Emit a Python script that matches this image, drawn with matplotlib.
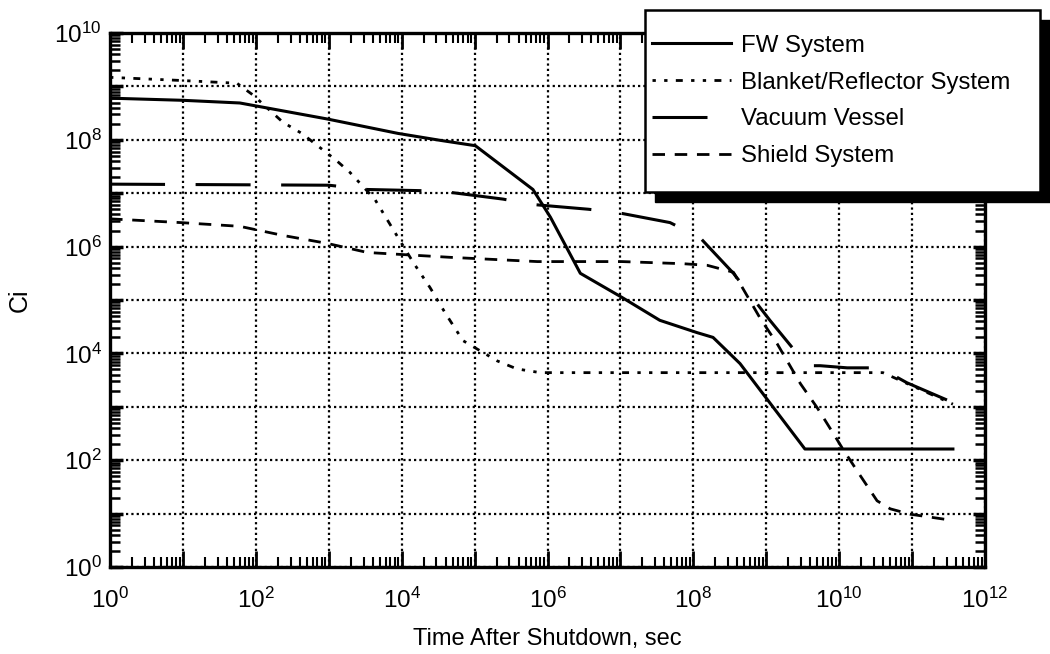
import numpy as np
import matplotlib
matplotlib.use("Agg")
import matplotlib.pyplot as plt
from matplotlib.ticker import LogLocator, FuncFormatter, NullFormatter
from matplotlib.patches import Rectangle

plt.rcParams['font.family'] = ['Liberation Sans', 'DejaVu Sans']
plt.rcParams['mathtext.fontset'] = 'custom'
plt.rcParams['mathtext.rm'] = 'Liberation Sans'
plt.rcParams['mathtext.it'] = 'Liberation Sans:italic'

# values, as log10 of time (s) and log10 of activity (Ci)
fw_logt = [0, 1, 1.78, 2.98, 3.95, 4.53, 5.01, 5.80, 6.04, 6.45, 7.02, 7.54,
           8.05, 8.27, 8.64, 9.53, 11.56]
fw_logci = [8.78, 8.74, 8.69, 8.39, 8.12, 7.99, 7.89, 7.07, 6.55, 5.50, 5.05,
            4.62, 4.39, 4.30, 3.81, 2.21, 2.21]

blanket_logt = [0, 0.5, 1.0, 1.74, 1.96, 2.37, 2.63, 3.09, 3.29, 3.63, 3.95,
                4.16, 4.39, 4.60, 4.84, 5.31, 5.58, 5.90, 10.6, 11.56]
blanket_logci = [9.17, 9.14, 9.11, 9.06, 8.84, 8.33, 8.12, 7.63, 7.39, 6.89,
                 6.17, 5.70, 5.23, 4.75, 4.24, 3.86, 3.71, 3.64, 3.64, 3.05]

vessel_logt = [0, 3.0, 3.53, 4.53, 5.39, 5.79, 6.56, 6.95, 7.68, 8.09, 8.55,
               9.05, 9.56, 9.74, 10.11, 10.56, 10.93, 11.56]
vessel_logci = [7.17, 7.15, 7.07, 7.04, 6.89, 6.79, 6.70, 6.64, 6.45, 6.17,
                5.50, 4.62, 3.77, 3.77, 3.73, 3.73, 3.45, 3.08]

shield_logt = [0, 0.97, 1.78, 2.37, 2.98, 3.53, 4.66, 5.86, 7.02, 7.86, 8.19,
               8.55, 8.92, 9.15, 9.47, 9.70, 9.92, 10.05, 10.29, 10.52, 10.70,
               10.97, 11.52]
shield_logci = [6.52, 6.45, 6.38, 6.21, 6.06, 5.89, 5.80, 5.72, 5.72, 5.68,
                5.65, 5.52, 4.65, 4.18, 3.43, 2.98, 2.50, 2.21, 1.71, 1.24,
                1.09, 0.99, 0.88]

labels = ['FW System', 'Blanket/Reflector System', 'Vacuum Vessel',
          'Shield System']

fig = plt.figure(figsize=(10.5, 6.54), dpi=100)
ax = fig.add_axes([0.1048, 0.133, 0.8333, 0.8165])

ax.plot(10.0**np.array(fw_logt), 10.0**np.array(fw_logci), color='k',
        lw=2.2, ls='-', label=labels[0])
ax.plot(10.0**np.array(blanket_logt), 10.0**np.array(blanket_logci),
        color='k', lw=2.0, ls=(0, (1.2, 3, 1.2, 3, 2.5, 3)), label=labels[1])
ax.plot(10.0**np.array(vessel_logt), 10.0**np.array(vessel_logci),
        color='k', lw=2.2, ls=(0, (18, 10)), label=labels[2])
ax.plot(10.0**np.array(shield_logt), 10.0**np.array(shield_logci),
        color='k', lw=2.0, ls=(0, (4.5, 3.5)), label=labels[3])

ax.set_xscale('log')
ax.set_yscale('log')
ax.set_xlim(1, 1e12)
ax.set_ylim(1, 1e10)

def even_pow(v, pos):
    p = int(round(np.log10(v)))
    if p % 2 == 0:
        return r'$\mathdefault{10^{%d}}$' % p
    return ''

for axis in (ax.xaxis, ax.yaxis):
    axis.set_major_locator(LogLocator(base=10, numticks=30))
    axis.set_minor_locator(LogLocator(base=10, subs=np.arange(2, 10),
                                      numticks=200))
    axis.set_major_formatter(FuncFormatter(even_pow))
    axis.set_minor_formatter(NullFormatter())

ax.tick_params(which='both', direction='in', top=True, right=True,
               colors='k', labelsize=17.5)
ax.tick_params(axis='x', which='major', length=11.5, width=2, pad=15)
ax.tick_params(axis='x', which='minor', length=7, width=1.5)
ax.tick_params(axis='y', which='major', length=9, width=2.5, pad=6)
ax.tick_params(axis='y', which='minor', length=7, width=1.8)

for s in ax.spines.values():
    s.set_linewidth(2.4)

ax.grid(True, which='major', color='k', ls=(0, (1, 1.4)), lw=1.6)

ax.set_xlabel('Time After Shutdown, sec', fontsize=17, labelpad=11)
ax.set_ylabel('Ci', fontsize=18, labelpad=16)

# legend box with a solid black drop shadow
W, H = 1050.0, 654.0
bx0, by0, bw, bh = 645 / W, 1 - 192 / H, 395 / W, 182 / H
fig.add_artist(Rectangle((bx0 + 10 / W, by0 - 10 / H), bw, bh,
                         transform=fig.transFigure, facecolor='k',
                         edgecolor='k', zorder=3))
fig.add_artist(Rectangle((bx0, by0), bw, bh, transform=fig.transFigure,
                         facecolor='white', edgecolor='k', lw=1.8, zorder=4))
handles, labs = ax.get_legend_handles_labels()
fig.legend(handles, labs, loc='center left',
           bbox_to_anchor=(bx0 + 7 / W, by0 + bh / 2), frameon=False,
           fontsize=17.3, handlelength=3.3, handletextpad=0.42,
           labelspacing=0.62, borderpad=0.0, borderaxespad=0.0)

fig.savefig('out.png', dpi=100, facecolor='white')
